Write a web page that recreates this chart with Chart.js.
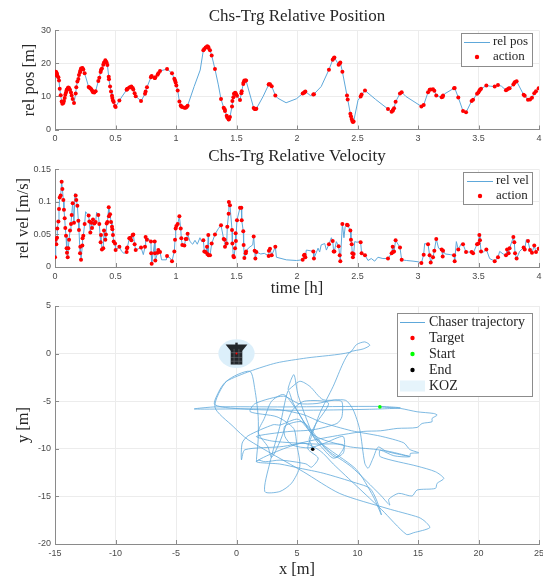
<!DOCTYPE html>
<html>
<head>
<meta charset="utf-8">
<title>Chs-Trg relative motion</title>
<script src="https://cdn.jsdelivr.net/npm/chart.js@4"></script>
<style>
    html, body { margin: 0; padding: 0; background: #fff; }
    body { position: relative; width: 543px; height: 578px; overflow: hidden; }
    canvas { position: absolute; left: 0; }
</style>
</head>
<body>
<canvas id="pos-chart" width="560" height="145" style="top:0"></canvas>
<canvas id="vel-chart" width="560" height="154" style="top:145px"></canvas>
<canvas id="xy-chart" width="560" height="285" style="top:295px"></canvas>
<script>
// Tick labels
const timeTicks = [0, 0.5, 1, 1.5, 2, 2.5, 3, 3.5, 4];
const posTicks = [0, 10, 20, 30];
const velTicks = [0, 0.05, 0.1, 0.15];
const xTicks = [-15, -10, -5, 0, 5, 10, 15, 20, 25];
const yTicks = [-20, -15, -10, -5, 0, 5];

// Action instants [h], with the rel pos [m] and rel vel [m/s] read at each one
const actionT = [
    0, .006, .011, .017, .019, .028, .033, .039, .047, .055,
    .061, .069, .074, .080, .085, .091, .096, .099, .105, .110,
    .116, .124, .132, .138, .146, .157, .171, .176, .185, .193,
    .198, .207, .209, .215, .226, .228, .234, .245, .278, .284,
    .292, .300, .306, .314, .325, .336, .358, .366, .377, .380,
    .388, .399, .405, .416, .421, .427, .433, .444, .446, .455,
    .463, .471, .474, .479, .485, .496, .501, .532, .592, .595,
    .598, .614, .623, .631, .642, .647, .658, .667, .711, .744,
    .749, .760, .793, .799, .795, .824, .826, .829, .848, .854,
    .868, .926, .967, .986, .992, .997, 1.003, 1.014, 1.028, 1.039,
    1.044, 1.052, 1.069, 1.080, 1.088, 1.096, 1.226, 1.234, 1.245, 1.256,
    1.259, 1.267, 1.269, 1.281, 1.295, 1.322, 1.372, 1.394, 1.402, 1.405,
    1.419, 1.424, 1.435, 1.437, 1.446, 1.463, 1.466, 1.474, 1.479, 1.488,
    1.493, 1.495, 1.504, 1.529, 1.540, 1.543, 1.556, 1.559, 1.565, 1.576,
    1.579, 1.642, 1.650, 1.656, 1.664, 1.766, 1.768, 1.777, 1.791, 1.821,
    2.047, 2.058, 2.063, 2.069, 2.135, 2.14, 2.264, 2.295, 2.303, 2.309,
    2.344, 2.353, 2.358, 2.375, 2.413, 2.419, 2.441, 2.446, 2.452, 2.457,
    2.462, 2.468, 2.526, 2.534, 2.562, 2.752, 2.782, 2.791, 2.793, 2.802,
    2.815, 2.851, 2.865, 3.028, 3.047, 3.083, 3.096, 3.105, 3.124, 3.135,
    3.151, 3.196, 3.204, 3.207, 3.298, 3.303, 3.333, 3.372, 3.397, 3.443,
    3.455, 3.488, 3.499, 3.507, 3.512, 3.521, 3.565, 3.634, 3.661, 3.727,
    3.736, 3.749, 3.757, 3.788, 3.796, 3.802, 3.815, 3.873, 3.882, 3.909,
    3.926, 3.942, 3.961, 3.975, 3.997
];
const actionPos = [
    16.5, 17.5, 17.3, 16.8, 16.3, 15.8, 14.8, 12.3, 10.4, 8.5,
    7.8, 8.0, 8.6, 9.5, 10.5, 11.2, 11.9, 12.1, 12.5, 12.7,
    12.6, 12, 11.2, 10.3, 9.2, 8, 10.9, 12.8, 14.5, 15.3,
    16.5, 17.3, 17.8, 18.5, 18.6, 18.5, 18.2, 17, 12.9, 12.7,
    12.5, 12.2, 11.8, 11.3, 11.2, 11.6, 14.7, 15.7, 17.4, 18,
    18.5, 19.6, 20.3, 21, 20.6, 20.2, 19.5, 16, 15.2, 13,
    11.5, 10.2, 9.5, 8.8, 8.3, 7.1, 6.8, 8.8, 12, 12.2,
    12.3, 12.7, 12.8, 13, 12.6, 12.1, 11, 10.1, 8.6, 10.8,
    11.5, 12.8, 15.8, 16.2, 16, 15.6, 15.6, 15.8, 16.6, 17,
    17.7, 18.3, 17, 15.4, 14.8, 14.2, 13.3, 11.8, 8.5, 7.3,
    7, 6.8, 6.6, 6.6, 6.8, 7.2, 24, 24.4, 24.8, 25,
    25.2, 25, 24.7, 24, 22.4, 18.3, 9.2, 6.6, 6.1, 5.6,
    4.2, 3.6, 3, 3.1, 3.8, 7, 8.6, 9.8, 10.8, 11.1,
    11, 10.7, 10.2, 8.9, 11, 11.6, 13.8, 14.3, 14.8, 14.8,
    14.8, 6.5, 6.2, 6.2, 6.3, 13.6, 13.7, 13.7, 13.1, 10.3,
    10.9, 11.1, 11.3, 11.5, 10.6, 10.7, 18.1, 21.1, 21.6, 21.8,
    19.6, 20, 20.3, 17.5, 10.3, 9.1, 4.8, 4, 3.2, 2.6,
    2.3, 2.4, 10, 10.6, 11.8, 6.2, 5.4, 5.7, 5.9, 6.4,
    8.4, 10.9, 11.3, 7, 7.4, 11.3, 12, 12.1, 12.2, 11.7,
    10.3, 9.8, 9.9, 10.3, 12.5, 12.6, 9.7, 5.6, 5.2, 8.6,
    9, 10.8, 11.2, 11.7, 12, 12.3, 13.3, 13, 13.5, 11.9,
    12.1, 12.4, 12.5, 13.6, 14.1, 14.4, 14.6, 10.5, 10.2, 9,
    9.1, 9.6, 11, 11.6, 12.5
];
const actionVel = [
    .015, .042, .035, .045, .059, .070, .089, .107, .110, .131,
    .120, .103, .088, .075, .060, .048, .029, .022, .015, .029,
    .042, .056, .066, .080, .098, .068, .110, .103, .094, .071,
    .057, .021, .031, .011, .033, .044, .048, .066, .079, .070,
    .053, .068, .060, .073, .067, .069, .080, .066, .038, .049,
    .027, .029, .056, .042, .050, .067, .069, .092, .078, .081,
    .069, .062, .058, .049, .039, .036, .026, .031, .023, .029,
    .030, .044, .045, .041, .049, .050, .035, .026, .030, .031,
    .046, .042, .039, .005, .021, .039, .021, .010, .022, .026,
    .023, .017, .009, .024, .042, .059, .063, .066, .078, .059,
    .044, .034, .033, .043, .043, .051, .041, .024, .023, .031,
    .020, .049, .018, .018, .036, .050, .064, .043, .042, .031,
    .036, .062, .082, .100, .095, .057, .036, .017, .015, .029,
    .052, .040, .072, .091, .091, .072, .055, .034, .014, .021,
    .024, .047, .025, .013, .023, .017, .025, .028, .018, .031,
    .011, .018, .019, .015, .024, .013, .035, .040, .024, .024,
    .032, .018, .009, .066, .065, .064, .056, .042, .035, .021,
    .015, .020, .038, .021, .018, .013, .021, .031, .023, .024,
    .041, .030, .011, .006, .019, .035, .018, .007, .015, .025,
    .043, .027, .016, .025, .018, .009, .027, .035, .023, .023,
    .021, .035, .036, .049, .041, .024, .027, .009, .015, .018,
    .027, .021, .029, .046, .038, .021, .013, .030, .027, .040,
    .026, .022, .033, .023, .028
];

// Line samples between the actions
const posGapT = [1.15, 1.2, 1.35, 1.72, 1.84, 1.91, 1.995, 2.11, 2.2, 2.504, 2.65, 2.9, 3.22, 3.6, 3.69];
const posGapV = [13, 18, 13.5, 10, 9.5, 8.1, 9.3, 10.3, 13, 8.8, 9.1, 10, 10.8, 13.1, 13.1];
const velGapT = [.165, .253, .344, .551, .57, .73, .771, .881, .92, .95,
    1.116, 1.138, 1.157, 1.176, 1.198, 1.212, 1.35, 1.598, 1.612, 1.634,
    1.70, 1.73, 1.83, 1.912, 1.995, 2.077, 2.11, 2.174, 2.187, 2.2,
    2.229, 2.243, 2.284, 2.325, 2.388, 2.398, 2.477, 2.496, 2.513, 2.587,
    2.614, 2.642, 2.669, 2.71, 2.904, 2.959, 3.0, 3.055, 3.17, 3.225,
    3.267, 3.317, 3.358, 3.54, 3.592, 3.675, 3.703, 3.84, 3.895];
const velGapV = [.113, .085, .084, .024, .021, .019, .044, .011, .011, .014,
    .039, .035, .041, .035, .045, .039, .059, .029, .031, .034,
    .020, .021, .015, .011, .010, .026, .025, .029, .023, .034,
    .036, .026, .045, .039, .045, .062, .039, .038, .039, .010,
    .013, .009, .015, .013, .010, .009, .008, .036, .029, .020,
    .019, .039, .036, .023, .013, .024, .020, .024, .042];

// Chaser path in the x-y plane [m]
const pathX = [
    11.85, 13.54, 14.92, 16.3, 16.58, 16.16, 16.16, 15.34, 14.92, 13.27,
    11.89, 10.47, 7.16, 3.86, 0.69, 0.41, 0.47, 0.96, 3.03, 3.6,
    5.1, 6.3, 7.3, 9.4, 11.89, 13, 14.32, 14.37, 15.06, 14.32,
    13.82, 11.89, 9.5, 7, 5.5, 3.2, -3.47, -1.79, 4, 11.85,
    13.54, 11, 5, 1, -1.79, -1.38, -0.83, 1.1, 3.3, 5.79,
    9.37, 9.92, 10.6, 11.02, 10.47, 9.37, 8.82, 7.99, 6.89, 6.2,
    5.9, 6.75, 6.2, 5.73, 3.6, 2.37, 1.82, 1.65, 1.79, 1.79,
    1.52, 1.1, -0.83, -1.79, -0.28, 0.96, 5.51, 8.54, 12.44, 15.06,
    15.61, 15.97, 14.65, 14.04, 12, 10, 8, 6.9, 5.4, 1.65,
    3.58, 5.23, 7.16, 9.92, 11.02, 11.57, 11.98, 11.3, 9.92, 7.71,
    6.34, 4.68, 4.27, 3.58, 2.75, 2.34, 3.58, 4.55, 5.23, 4.99,
    4.72, 3.34, 1.13, 1.55, 3.89, 5.13, 6.65, 8.03, 8.71, 8.71,
    8.3, 6.34, 4.2, 1.65, 3, 6.5, 8.82, 8.82, 7.99, 7.16,
    6.4, 5.1, 4.74, 4.27, 5.23, 6.06, 7.16, 9, 9.64, 10.19,
    10.6, 10.88, 11.29, 11.71, 12.4, 14.3, 11.89, 11.89, 14.92, 16.44,
    17.13, 16.58, 16.44, 14.92, 14.51, 13.4, 12.58, 12.66, 11.9, 9.5,
    7.5, 5.5, 4, 4, 4.6, 6, 7.3, 8.8, 8.9, 8.2,
    7, 5.7, 4.9, 3.9, 2.9, 2.3, 1.8, 2.6, 2.9, 3.6,
    4.6, 5.6, 7.6, 6.5, 6, 6.2, 6.3
];
const pathY = [
    -5.6, -5.76, -6.11, -6.29, -6.46, -6.81, -7.16, -7.34, -7.76, -7.86,
    -8.11, -8.18, -8.88, -9.75, -10.1, -11.16, -9.4, -8.63, -7.47, -7.5,
    -6.9, -8.5, -9.1, -9.8, -10.14, -10.73, -10.84, -10.49, -10.42, -10.07,
    -9.37, -8.67, -8.1, -7.2, -6.4, -5.85, -5.82, -5.6, -5.6, -5.55,
    -5.7, -5.85, -5.95, -5.85, -5.37, -3.79, -2.91, -1.86, -.98, -.46,
    .14, .95, 1.23, .88, .49, .14, -.98, -3.44, -6.25, -8.7,
    -10, -10.98, -11.93, -11.58, -11.19, -11.36, -11.19, -11.33, -9.05, -6.6,
    -3.79, -1.86, -2.91, -5.6, -7.65, -9.05, -12.4, -14.7, -16.26, -17.2,
    -17.66, -18.29, -18.81, -18.99, -16.4, -14, -11.6, -10.2, -9.4, -11.33,
    -11.6, -12.04, -12.56, -13.61, -14.14, -15.37, -16.95, -15, -12.2, -10.1,
    -8.7, -5.19, -3.9, -7.65, -11.5, -14.49, -14.49, -13.61, -11.86, -9.61,
    -7.86, -6.64, -6.1, -5.24, -4.47, -5.24, -5.24, -4.89, -5.06, -6.64,
    -7.34, -8, -8.2, -8.7, -9.2, -9.5, -9.58, -10.46, -10.98, -10,
    -8.8, -4.4, -2.21, -3.79, -2.91, -3.44, -4.84, -4.9, -5.9, -8,
    -11.51, -12.04, -10.98, -9.82, -10.28, -10.8, -10.14, -10.84, -11.82, -12.41,
    -13.11, -13.63, -14.16, -14.33, -14.96, -14.68, -15.31, -15.91, -14.86, -11.9,
    -10.1, -7.2, -7.6, -8.7, -9.6, -9.9, -9.4, -8.7, -9.8, -10.9,
    -9.5, -7.4, -5.8, -4.3, -5, -6.8, -8.3, -9.8, -10.9, -9.2,
    -6, -5, -5.2, -7.5, -9, -9.6, -10.04
];
const targetXY = [0, 0];
const startXY = [11.85, -5.6];
const endXY = [6.3, -10.04];
const kozRadius = 1.5;

const serif = '"Liberation Serif", serif';
const sans = '"Liberation Sans", sans-serif';
const inkColor = '#262626';
const tickColor = '#4a4a4a';
const axisColor = '#8a8a8a';
const gridColor = '#ececec';
const lineBlue = '#5ea8da';

function toPoints(xs, ys) {
    return xs.map((x, i) => ({ x: x, y: ys[i] }));
}

// Line goes through the actions and the gap samples, in time order
function timeLine(t1, v1, t2, v2) {
    return toPoints(t1, v1).concat(toPoints(t2, v2)).sort((a, b) => a.x - b.x);
}

// Short inward tick marks on the left and bottom axes
const innerTicks = {
    id: 'innerTicks',
    afterDatasetsDraw(chart) {
        const { ctx, chartArea: a, scales } = chart;
        ctx.save();
        ctx.strokeStyle = axisColor;
        ctx.lineWidth = 1;
        ctx.beginPath();
        scales.x.ticks.forEach(t => {
            const px = Math.round(scales.x.getPixelForValue(t.value)) + 0.5;
            ctx.moveTo(px, a.bottom);
            ctx.lineTo(px, a.bottom - 4);
        });
        scales.y.ticks.forEach(t => {
            const py = Math.round(scales.y.getPixelForValue(t.value)) + 0.5;
            ctx.moveTo(a.left, py);
            ctx.lineTo(a.left + 4, py);
        });
        ctx.stroke();
        ctx.restore();
    }
};

// Legend box sitting inside the axes, like the MATLAB one
const boxLegend = {
    id: 'boxLegend',
    afterDraw(chart, args, opts) {
        if (!opts.rows) return;
        const ctx = chart.ctx;
        const [l, t, r, b] = opts.box;
        ctx.save();
        ctx.fillStyle = '#fff';
        ctx.fillRect(l, t, r - l, b - t);
        ctx.strokeStyle = '#8c8c8c';
        ctx.lineWidth = 1;
        ctx.strokeRect(l + 0.5, t + 0.5, r - l - 1, b - t - 1);
        ctx.font = opts.font;
        ctx.textBaseline = 'middle';
        opts.rows.forEach(row => {
            if (row.kind === 'line') {
                ctx.strokeStyle = lineBlue;
                ctx.beginPath();
                ctx.moveTo(opts.keyLeft, row.y + 0.5);
                ctx.lineTo(opts.keyRight, row.y + 0.5);
                ctx.stroke();
            } else if (row.kind === 'dot') {
                ctx.fillStyle = row.color;
                ctx.beginPath();
                ctx.arc((opts.keyLeft + opts.keyRight) / 2, row.y, 2.2, 0, Math.PI * 2);
                ctx.fill();
            } else {
                ctx.fillStyle = row.color;
                ctx.fillRect(opts.keyLeft, row.y - 5.5, opts.keyRight - opts.keyLeft, 11);
            }
            ctx.fillStyle = inkColor;
            ctx.fillText(row.label, opts.textLeft, row.y);
        });
        ctx.restore();
    }
};

// Keep-out zone and the target spacecraft, placed through the scales
const targetSketch = {
    id: 'targetSketch',
    beforeDatasetsDraw(chart) {
        const { ctx, scales: { x, y } } = chart;
        const px = v => x.getPixelForValue(v);
        const py = v => y.getPixelForValue(v);
        ctx.save();
        ctx.fillStyle = '#dceffa';
        ctx.beginPath();
        ctx.ellipse(px(targetXY[0]), py(targetXY[1]),
            px(kozRadius) - px(0), py(-kozRadius) - py(0), 0, 0, Math.PI * 2);
        ctx.fill();
        // body
        ctx.fillStyle = '#23272b';
        ctx.fillRect(px(-0.48), py(0.6), px(0.48) - px(-0.48), py(-1.15) - py(0.6));
        // wings
        ctx.beginPath();
        ctx.moveTo(px(-0.9), py(0.95));
        ctx.lineTo(px(0.9), py(0.95));
        ctx.lineTo(px(0.48), py(0.3));
        ctx.lineTo(px(-0.48), py(0.3));
        ctx.closePath();
        ctx.fill();
        ctx.fillRect(px(-0.1), py(1.15), px(0.1) - px(-0.1), py(0.9) - py(1.15));
        // panel seams
        ctx.strokeStyle = '#6b7075';
        ctx.lineWidth = 0.6;
        ctx.beginPath();
        [-0.2, 0.2].forEach(v => {
            ctx.moveTo(px(v), py(0.5));
            ctx.lineTo(px(v), py(-1.1));
        });
        [0.1, -0.4, -0.8].forEach(v => {
            ctx.moveTo(px(-0.45), py(v));
            ctx.lineTo(px(0.45), py(v));
        });
        ctx.stroke();
        ctx.restore();
    }
};

function fitX(height) {
    return s => {
        s.height = height;
        s.paddingLeft = 0;
        s.paddingRight = 0;
    };
}

function fitY(width) {
    return s => {
        s.width = width;
        s.paddingTop = 0;
        s.paddingBottom = 0;
    };
}

function axisOptions(ticks, min, max, fitSize, title) {
    return {
        type: 'linear',
        min: min,
        max: max,
        afterBuildTicks: scale => { scale.ticks = ticks.map(v => ({ value: v })); },
        afterFit: fitSize,
        border: { color: axisColor, width: 1 },
        grid: { color: gridColor, lineWidth: 1, drawTicks: false },
        ticks: {
            color: tickColor,
            font: { family: sans, size: 9 },
            padding: 4,
            maxRotation: 0,
            autoSkip: false,
            callback: v => String(v)
        },
        title: title
    };
}

function axisTitle(text, padding) {
    return {
        display: true,
        text: text,
        color: inkColor,
        font: { family: serif, size: 16.5 },
        padding: padding
    };
}

function baseOptions(topPadding, xScale, yScale, plugins) {
    return {
        responsive: false,
        animation: false,
        devicePixelRatio: 1,
        layout: { padding: { left: 0, right: 21, top: topPadding, bottom: 0 } },
        scales: { x: xScale, y: yScale },
        plugins: Object.assign({ legend: { display: false }, tooltip: { enabled: false } }, plugins)
    };
}

function chartTitle(text, padding) {
    return {
        display: true,
        fullSize: false,
        text: text,
        color: inkColor,
        font: { family: serif, size: 17, weight: 'normal' },
        padding: padding
    };
}

function timeChart(canvasId, lineData, actionV, lineLabel, axes, titleOpts, legendOpts) {
    return new Chart(document.getElementById(canvasId), {
        type: 'scatter',
        data: {
            datasets: [
                {
                    label: lineLabel,
                    data: lineData,
                    showLine: true,
                    order: 2,
                    borderColor: lineBlue,
                    borderWidth: 1,
                    pointRadius: 0
                },
                {
                    label: 'action',
                    data: toPoints(actionT, actionV),
                    order: 1,
                    pointRadius: 2,
                    pointBorderWidth: 0,
                    pointBackgroundColor: '#ff0000'
                }
            ]
        },
        options: baseOptions(0, axes.x, axes.y, { title: titleOpts, boxLegend: legendOpts }),
        plugins: [innerTicks, boxLegend]
    });
}

timeChart('pos-chart',
    timeLine(actionT, actionPos, posGapT, posGapV),
    actionPos,
    'rel pos',
    {
        x: axisOptions(timeTicks, 0, 4, fitX(15.5), { display: false }),
        y: axisOptions(posTicks, 0, 30, fitY(55), axisTitle('rel pos [m]', { top: 20, bottom: 0 }))
    },
    chartTitle('Chs-Trg Relative Position', { top: 6, bottom: 4 }),
    {
        box: [461, 33, 533, 67],
        font: '13px ' + serif,
        keyLeft: 464,
        keyRight: 490,
        textLeft: 493,
        rows: [
            { kind: 'line', label: 'rel pos', y: 42 },
            { kind: 'dot', label: 'action', y: 57, color: '#ff0000' }
        ]
    });

timeChart('vel-chart',
    timeLine(actionT, actionVel, velGapT, velGapV),
    actionVel,
    'rel vel',
    {
        x: axisOptions(timeTicks, 0, 4, fitX(32), axisTitle('time [h]', { top: 0, bottom: 0 })),
        y: axisOptions(velTicks, 0, 0.15, fitY(55), axisTitle('rel vel [m/s]', { top: 14, bottom: 0 }))
    },
    chartTitle('Chs-Trg Relative Velocity', { top: 1, bottom: 3 }),
    {
        box: [463, 27, 533, 60],
        font: '13px ' + serif,
        keyLeft: 467,
        keyRight: 493,
        textLeft: 496,
        rows: [
            { kind: 'line', label: 'rel vel', y: 36 },
            { kind: 'dot', label: 'action', y: 51, color: '#ff0000' }
        ]
    });

new Chart(document.getElementById('xy-chart'), {
    type: 'scatter',
    data: {
        datasets: [
            {
                label: 'Chaser trajectory',
                data: toPoints(pathX, pathY),
                showLine: true,
                order: 4,
                tension: 0.25,
                borderColor: lineBlue,
                borderWidth: 0.8,
                pointRadius: 0
            },
            {
                label: 'Target',
                data: [{ x: targetXY[0], y: targetXY[1] }],
                order: 3,
                pointRadius: 1,
                pointBorderWidth: 0,
                pointBackgroundColor: '#ff0000'
            },
            {
                label: 'Start',
                data: [{ x: startXY[0], y: startXY[1] }],
                order: 2,
                pointRadius: 1.8,
                pointBorderWidth: 0,
                pointBackgroundColor: '#00ff00'
            },
            {
                label: 'End',
                data: [{ x: endXY[0], y: endXY[1] }],
                order: 1,
                pointRadius: 1.8,
                pointBorderWidth: 0,
                pointBackgroundColor: '#000000'
            }
        ]
    },
    options: baseOptions(11,
        axisOptions(xTicks, -15, 25, fitX(36), axisTitle('x [m]', { top: 0, bottom: 0 })),
        axisOptions(yTicks, -20, 5, fitY(55), axisTitle('y [m]', { top: 14, bottom: 0 })),
        {
            boxLegend: {
                box: [397, 18, 533, 102],
                font: '14px ' + serif,
                keyLeft: 400,
                keyRight: 425,
                textLeft: 429,
                rows: [
                    { kind: 'line', label: 'Chaser trajectory', y: 27 },
                    { kind: 'dot', label: 'Target', y: 43, color: '#ff0000' },
                    { kind: 'dot', label: 'Start', y: 59, color: '#00ff00' },
                    { kind: 'dot', label: 'End', y: 75, color: '#000000' },
                    { kind: 'patch', label: 'KOZ', y: 91, color: '#e6f4fb' }
                ]
            }
        }),
    plugins: [targetSketch, innerTicks, boxLegend]
});
</script>
</body>
</html>
